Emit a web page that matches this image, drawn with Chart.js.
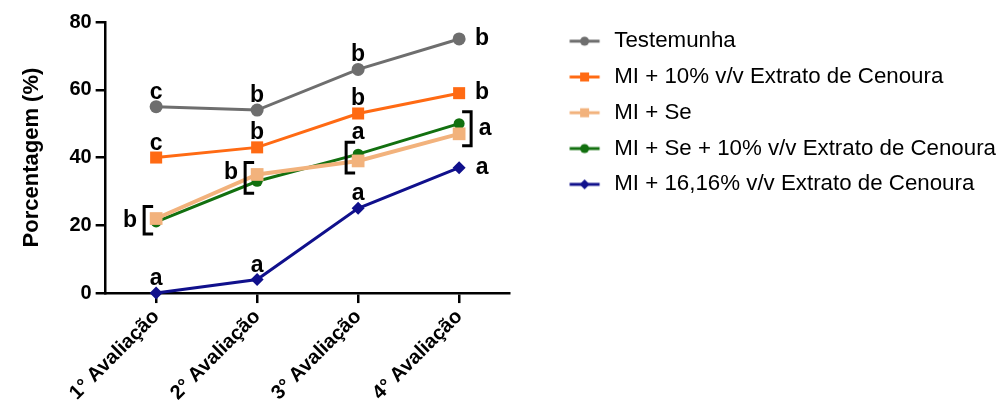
<!DOCTYPE html>
<html>
<head>
<meta charset="utf-8">
<script src="https://cdn.jsdelivr.net/npm/chart.js@4"></script>
<style>
  html, body { margin: 0; padding: 0; background: #fff; }
  #wrap { width: 998px; height: 407px; }
</style>
</head>
<body>
<div id="wrap"><canvas id="grafico" width="998" height="407"></canvas></div>
<script>
// ── dados ──
const categorias = ['1° Avaliação', '2° Avaliação', '3° Avaliação', '4° Avaliação'];
const testemunha = [55, 54, 66, 75];
const mi10 = [40, 43, 53, 59];
const miSe = [22, 35, 39, 47];
const miSe10 = [21, 33, 41, 50];
const mi1616 = [0, 4, 25, 37];
const yTicks = [0, 20, 40, 60, 80];

// letras de significância
const letrasTest = ['c', 'b', 'b', 'b'];
const letrasMi10 = ['c', 'b', 'b', 'b'];
const letrasMi1616 = ['a', 'a', 'a', 'a'];
const letrasGrupoSe = ['b', 'b', 'a', 'a'];   // MI + Se e MI + Se + 10% (colchete)
const posLetras = ['acima', 'acima', 'acima', 'direita'];
const ladoColchete = ['esq', 'esq', 'esq', 'dir'];
const posLetraColchete = ['esq', 'esq', 'acima', 'dir'];

const FONTE = '"Liberation Sans", Arial, sans-serif';

// ícone da legenda: linha + marcador (espaço vazio à esquerda empurra a legenda)
function iconeLegenda(cor, estilo) {
  const c = document.createElement('canvas');
  c.width = 80; c.height = 16;
  const g = c.getContext('2d');
  g.strokeStyle = cor; g.fillStyle = cor; g.lineWidth = 3;
  g.beginPath(); g.moveTo(46.5, 8); g.lineTo(76.5, 8); g.stroke();
  g.beginPath();
  if (estilo === 'circle') g.arc(61.5, 8, 4.5, 0, Math.PI * 2);
  else if (estilo === 'rect') g.rect(57, 3.5, 9, 9);
  else { g.moveTo(61.5, 3); g.lineTo(66.5, 8); g.lineTo(61.5, 13); g.lineTo(56.5, 8); g.closePath(); }
  g.fill();
  return c;
}

const series = [
  { label: 'Testemunha', data: testemunha, cor: '#6e6e6e', estilo: 'circle', raio: 6.5, larg: 3 },
  { label: 'MI + 10% v/v Extrato de Cenoura', data: mi10, cor: '#ff6a13', estilo: 'rect', raio: 8.5, larg: 3 },
  { label: 'MI + Se', data: miSe, cor: '#f2b27c', estilo: 'rect', raio: 9, larg: 4 },
  { label: 'MI + Se + 10% v/v Extrato de Cenoura', data: miSe10, cor: '#12700f', estilo: 'circle', raio: 5.5, larg: 3 },
  { label: 'MI + 16,16% v/v Extrato de Cenoura', data: mi1616, cor: '#10108c', estilo: 'rectRot', raio: 6.5, larg: 3 }
];

// letras e colchetes desenhados sobre as séries
const letrasPlugin = {
  id: 'letras',
  afterDatasetsDraw(chart) {
    const { ctx, scales: { x, y } } = chart;
    ctx.save();
    ctx.font = 'bold 23px ' + FONTE;
    ctx.fillStyle = '#000';
    ctx.textAlign = 'center';
    [[testemunha, letrasTest], [mi10, letrasMi10], [mi1616, letrasMi1616]].forEach(([vals, letras]) => {
      vals.forEach((v, i) => {
        const px = x.getPixelForValue(i), py = y.getPixelForValue(v);
        if (posLetras[i] === 'direita') {
          ctx.textBaseline = 'middle';
          ctx.fillText(letras[i], px + 23, py);
        } else {
          ctx.textBaseline = 'alphabetic';
          ctx.fillText(letras[i], px, py - 8);
        }
      });
    });

    ctx.strokeStyle = '#000';
    ctx.lineWidth = 3;
    miSe.forEach((v, i) => {
      const px = x.getPixelForValue(i);
      const topo = y.getPixelForValue(Math.max(v, miSe10[i])) - 12;
      const base = y.getPixelForValue(Math.min(v, miSe10[i])) + 12;
      const dir = ladoColchete[i] === 'dir' ? 1 : -1;
      const bx = px + dir * 12;
      ctx.beginPath();
      ctx.moveTo(bx - dir * 9, topo);
      ctx.lineTo(bx, topo);
      ctx.lineTo(bx, base);
      ctx.lineTo(bx - dir * 9, base);
      ctx.stroke();
      const meio = (topo + base) / 2;
      if (posLetraColchete[i] === 'acima') {
        ctx.textBaseline = 'alphabetic';
        ctx.fillText(letrasGrupoSe[i], px, topo - 3);
      } else {
        ctx.textBaseline = 'middle';
        ctx.fillText(letrasGrupoSe[i], px + dir * 26, meio - (i === 1 ? 5 : 0));
      }
    });
    ctx.restore();
  }
};

new Chart(document.getElementById('grafico'), {
  type: 'line',
  data: {
    labels: categorias,
    datasets: series.map(s => ({
      label: s.label,
      data: s.data,
      borderColor: s.cor,
      backgroundColor: s.cor,
      borderWidth: s.larg,
      pointStyle: s.estilo,
      pointRadius: s.raio,
      pointHoverRadius: s.raio,
      pointBorderWidth: 0,
      pointBackgroundColor: s.cor,
      tension: 0,
      clip: false
    }))
  },
  options: {
    responsive: false,
    animation: false,
    layout: { padding: { top: 16.5, left: 19, bottom: 0, right: -8 } },
    plugins: {
      tooltip: { enabled: false },
      legend: {
        position: 'right',
        align: 'start',
        maxWidth: 520,
        labels: {
          usePointStyle: true,
          pointStyleWidth: 80,
          boxHeight: 22,
          padding: 13.5,
          color: '#000',
          font: { family: FONTE, size: 22.3 },
          generateLabels(chart) {
            return Chart.defaults.plugins.legend.labels.generateLabels(chart).map((it, i) => ({
              ...it,
              pointStyle: iconeLegenda(series[i].cor, series[i].estilo)
            }));
          }
        }
      }
    },
    scales: {
      x: {
        offset: true,
        grid: { display: true, offset: false, drawOnChartArea: false, drawTicks: true, tickLength: 10, color: '#000', lineWidth: 2.5 },
        border: { display: true, color: '#000', width: 2.5 },
        ticks: { color: '#000', font: { family: FONTE, size: 20, weight: 'bold' }, maxRotation: 45, minRotation: 45, padding: 2 }
      },
      y: {
        min: 0,
        max: 80,
        afterBuildTicks(scale) { scale.ticks = yTicks.map(v => ({ value: v })); },
        afterFit(scale) { scale.paddingTop = 22; },
        grid: { display: true, drawOnChartArea: false, drawTicks: true, tickLength: 10, color: '#000', lineWidth: 2.5 },
        border: { display: true, color: '#000', width: 2.5 },
        ticks: { color: '#000', font: { family: FONTE, size: 20, weight: 'bold' }, padding: 4 },
        title: {
          display: true,
          text: 'Porcentagem (%)',
          color: '#000',
          font: { family: FONTE, size: 22, weight: 'bold' },
          padding: { top: 0, bottom: 20 }
        }
      }
    }
  },
  plugins: [letrasPlugin]
});
</script>
</body>
</html>
